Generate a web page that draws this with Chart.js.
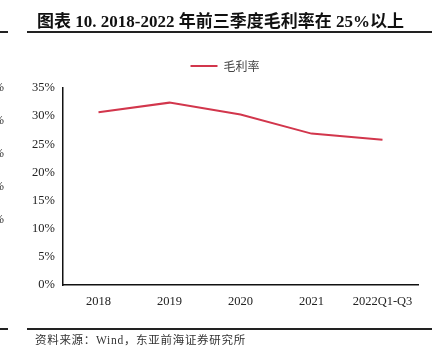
<!DOCTYPE html>
<html><head><meta charset="utf-8">
<script src="https://cdn.jsdelivr.net/npm/chart.js@4"></script>
<style>
html,body{margin:0;padding:0;background:#fff;}
#wrap{position:relative;width:435px;height:356px;overflow:hidden;}
#title{position:absolute;left:37px;top:7px;font:bold 17px "Liberation Serif","Noto Sans CJK SC",serif;color:#111;white-space:nowrap;}
.rule{position:absolute;height:2px;background:#222;}
#src{position:absolute;left:35px;top:331px;font:11.5px "Liberation Serif","Noto Sans CJK SC",serif;color:#333;letter-spacing:0.7px;}
.frag{position:absolute;left:-6px;font:12px "Liberation Serif",serif;color:#333;}
canvas{position:absolute;left:0;top:0;}
</style></head>
<body><div id="wrap">
<canvas id="c" width="435" height="356"></canvas>
<div id="title">图表 10. 2018-2022 年前三季度毛利率在 25%以上</div>
<div class="rule" style="left:27px;width:405px;top:31px"></div>
<div class="rule" style="left:0;width:8px;top:31px"></div>
<div class="rule" style="left:27px;width:405px;top:328px"></div>
<div class="rule" style="left:0;width:8px;top:328px"></div>
<div class="frag" style="top:80px">%</div>
<div class="frag" style="top:113px">%</div>
<div class="frag" style="top:146px">%</div>
<div class="frag" style="top:179px">%</div>
<div class="frag" style="top:212px">%</div>
<div id="src">资料来源：Wind，东亚前海证券研究所</div>
</div>
<script>
const categories = ["2018","2019","2020","2021","2022Q1-Q3"];
const grossMargin = [30.7, 32.4, 30.3, 26.9, 25.8];
const seriesName = "毛利率";
const yTicks = [0,5,10,15,20,25,30,35];

const legendGap = {
  id: 'legendGap',
  beforeLayout(chart) {
    const lg = chart.legend;
    if (lg && !lg._patched) {
      const orig = lg.fit;
      lg.fit = function () { orig.call(this); this.height += 6; };
      lg._patched = true;
    }
  }
};

new Chart(document.getElementById('c'), {
  type: 'line',
  data: {
    labels: categories,
    datasets: [{
      label: seriesName,
      data: grossMargin,
      borderColor: '#d2364c',
      backgroundColor: '#d2364c',
      borderWidth: 2,
      pointRadius: 0,
      tension: 0,
      fill: false
    }]
  },
  plugins: [legendGap],
  options: {
    responsive: false,
    animation: false,
    devicePixelRatio: 1,
    layout: { padding: { left: 32, right: 17, top: 50, bottom: 41 } },
    plugins: {
      tooltip: { enabled: false },
      legend: {
        position: 'top',
        labels: {
          usePointStyle: true,
          pointStyle: 'line',
          pointStyleWidth: 27,
          boxWidth: 27,
          font: { family: '"Noto Sans CJK SC"', size: 12 },
          color: '#444',
          padding: 10
        }
      }
    },
    scales: {
      x: {
        offset: true,
        grid: { display: false, drawTicks: false },
        border: { display: true, color: '#111', width: 1.5 },
        ticks: { color: '#222', font: { family: '"Liberation Serif"', size: 12.5 }, padding: 9 },
        afterFit: s => { s.height = 30; }
      },
      y: {
        min: 0, max: 35,
        afterBuildTicks: s => { s.ticks = yTicks.map(v => ({ value: v })); },
        grid: { display: false, drawTicks: false },
        border: { display: true, color: '#111', width: 1.5 },
        ticks: { color: '#222', font: { family: '"Liberation Serif"', size: 12.5 }, padding: 8, callback: v => v + '%' },
        afterFit: s => { s.width = 31; }
      }
    }
  }
});
</script>
</body></html>
